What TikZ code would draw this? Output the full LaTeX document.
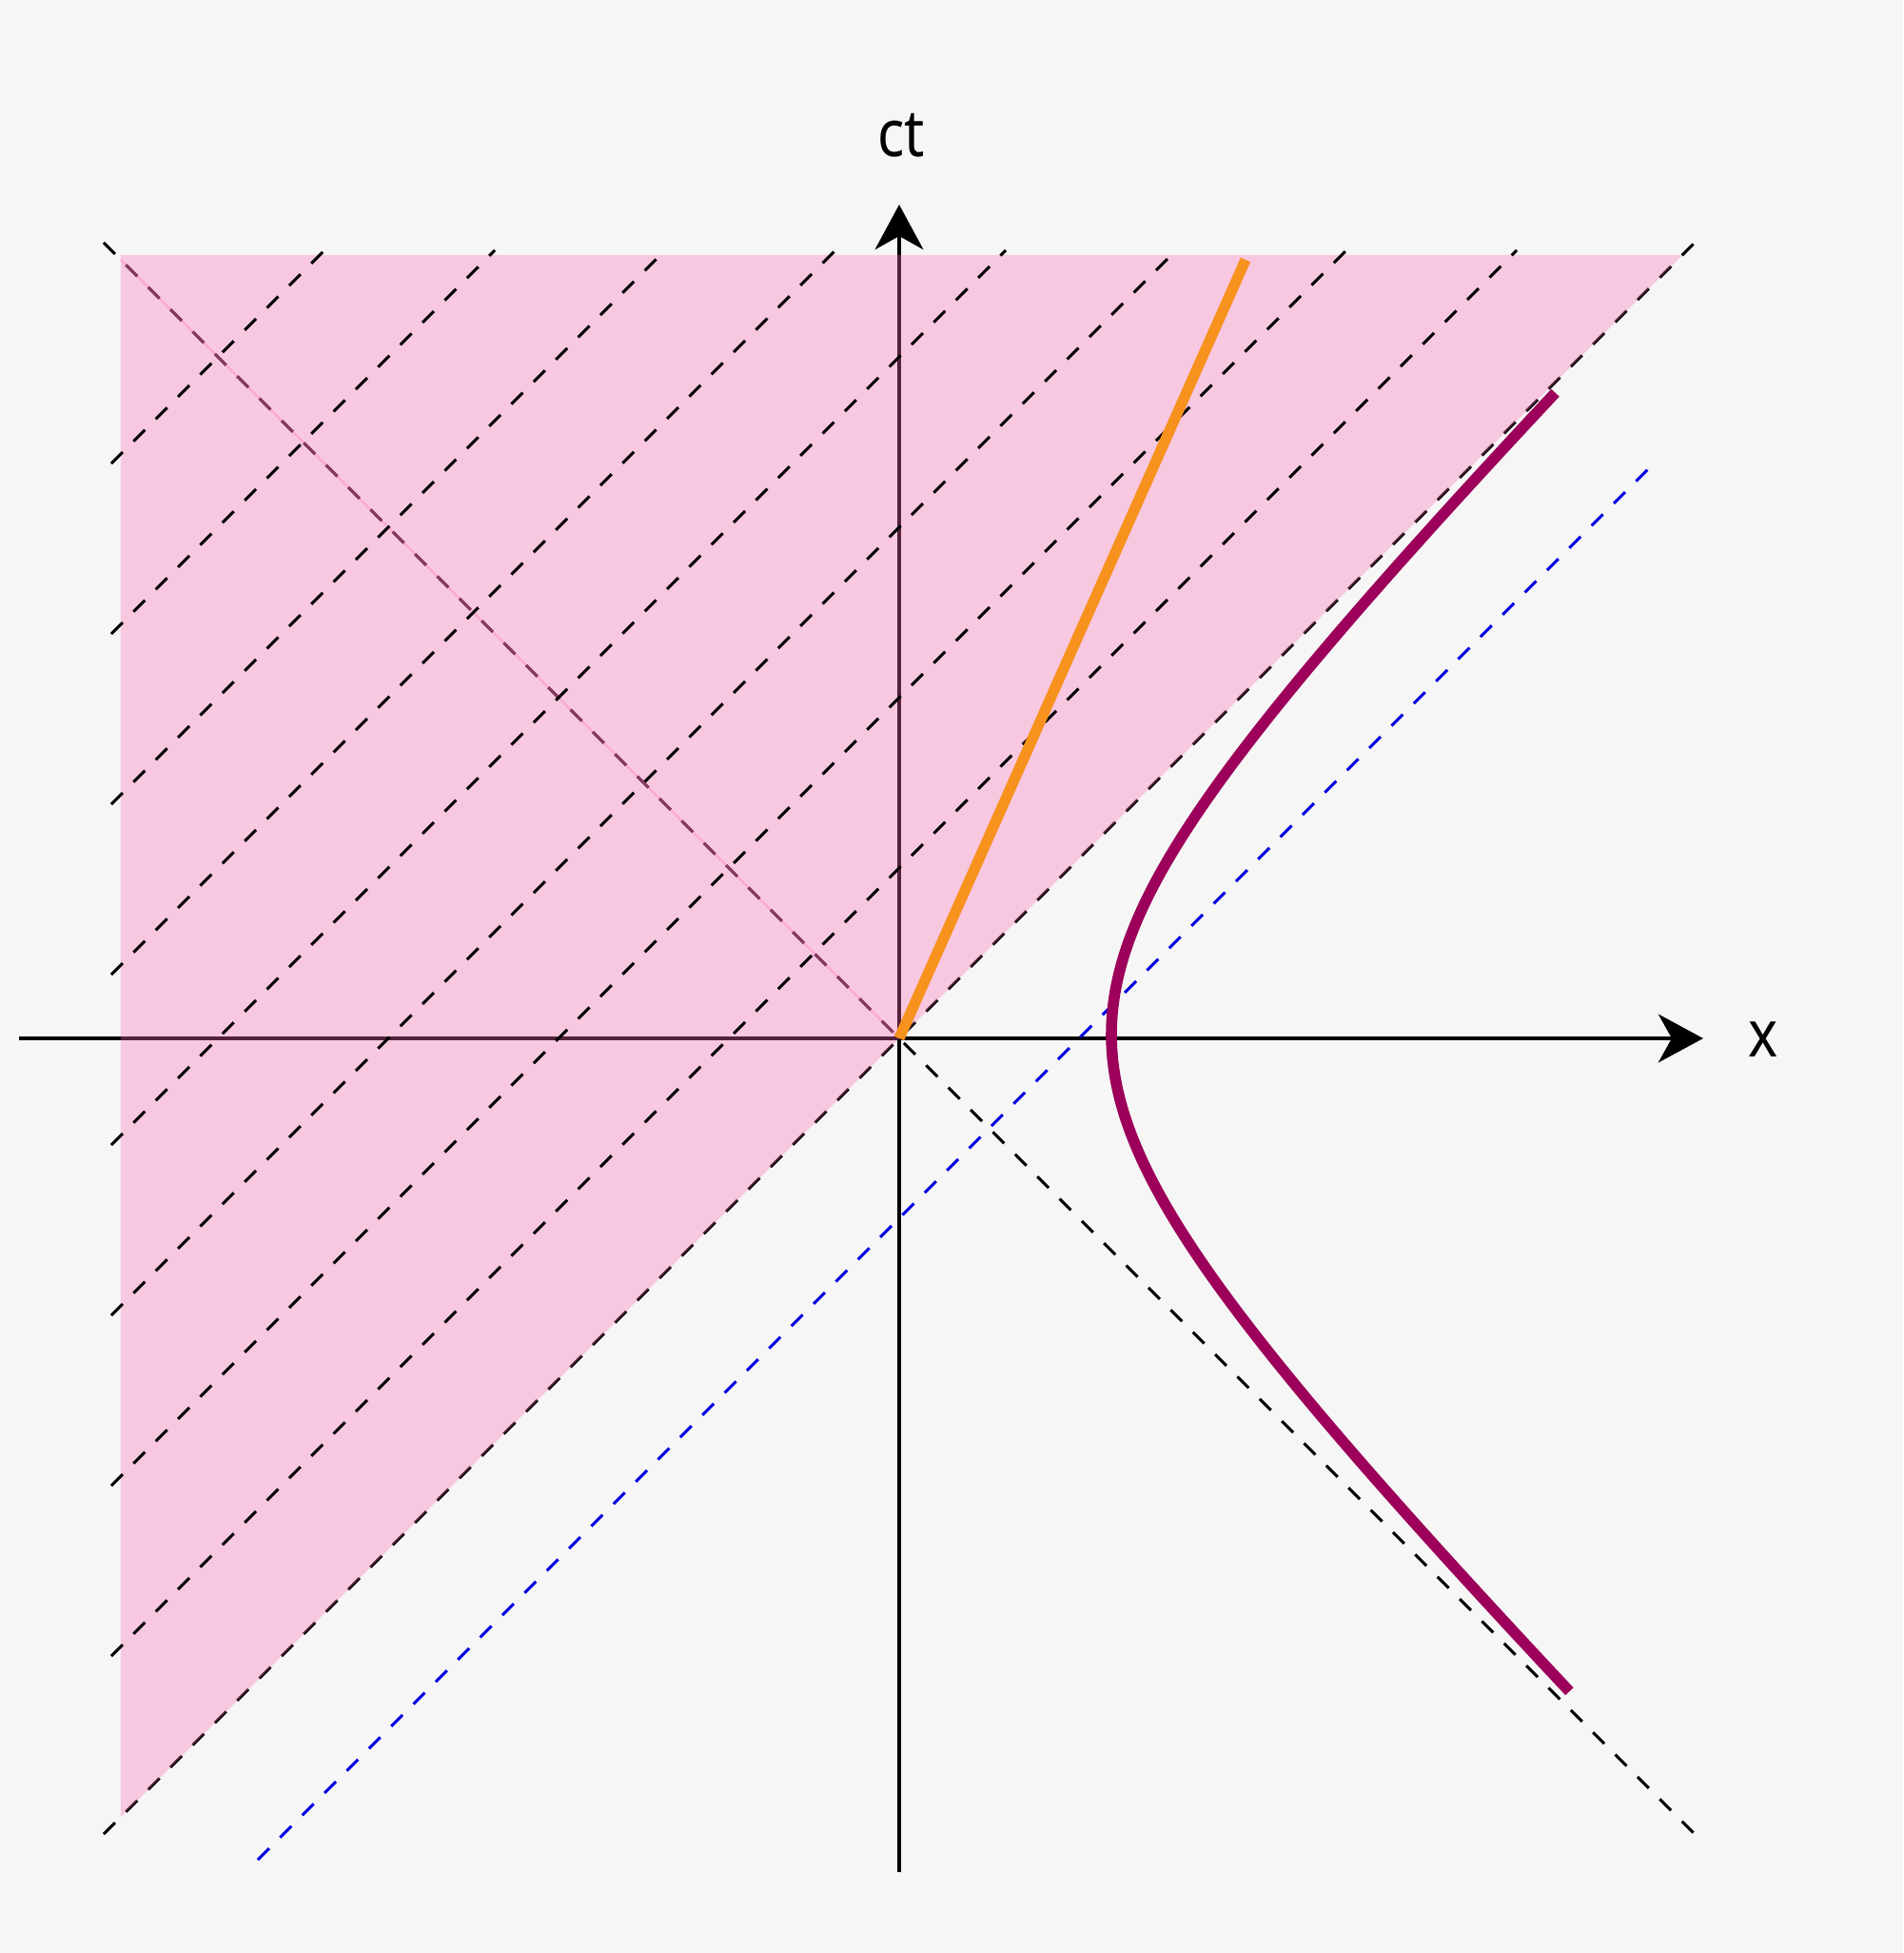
\documentclass[tikz,border=0pt]{standalone}
\usepackage{fontspec}
\newfontfamily\labelfont[FakeStretch=0.86]{Noto Sans}
\usetikzlibrary{arrows.meta}
\definecolor{paper}{HTML}{F6F6F6}
\definecolor{conepink}{RGB}{255,105,180}
\definecolor{worldorange}{RGB}{247,146,30}
\definecolor{hyperpurple}{RGB}{156,0,90}
\definecolor{simblue}{RGB}{0,0,225}
\begin{document}
\begin{tikzpicture}
    \tikzset{axis/.style={line width=1.35pt,-{Stealth[length=13.4pt,width=14.4pt,inset=4pt]}},
        lightline/.style={line width=0.85pt,dash pattern=on 4.8pt off 4.6pt},
        axislabel/.style={font=\labelfont\fontsize{19.5}{23}\selectfont,inner sep=0pt,anchor=base}}
    \fill[paper] (-9.45,-9.61) rectangle (10.55,10.91);
    \useasboundingbox (-9.45,-9.61) rectangle (10.55,10.91);
    \coordinate (O) at (0,0);
    \coordinate (xl) at (-9.25,0);
    \coordinate (xr) at (8.45,0);
    \coordinate (tb) at (0,-8.76);
    \coordinate (tt) at (0,8.76);
    % axes and light cone
    \draw[axis] (xl) -- (xr);
    \draw[axis] (tb) -- (tt);
    \draw[lightline] (-8.36,-8.36) -- (8.36,8.36);
    \draw[lightline] (-8.36,8.36) -- (8.36,-8.36);
    % shaded region
    \fill[conepink,opacity=0.33] (-8.18,8.23) -- (8.23,8.23) -- (O) -- (-8.18,-8.18) -- cycle;
    \draw[conepink,opacity=0.33,line width=0.6pt] (-8.18,8.18) -- (O);
    \foreach \k in {1,...,8}
        \draw[lightline] (-8.28,{-8.28+1.79*\k}) -- ({8.28-1.79*\k},8.28);
    \draw[lightline,simblue] (-6.74,-8.63) -- (7.92,6.03);
    % worldline and hyperbola
    \draw[worldorange,line width=3.2pt] (O) -- (3.64,8.18);
    \draw[hyperpurple,line width=3.3pt] plot[domain=-1.725:1.704,samples=120,smooth]
        ({-0.31+2.54*cosh(\x)},{0.04+2.54*sinh(\x)});
    \node[axislabel] (ctlabel) at (0.02,9.26) {ct};
    \node[axislabel] (xlabel) at (9.08,-0.19) {x};
\end{tikzpicture}
\end{document}
